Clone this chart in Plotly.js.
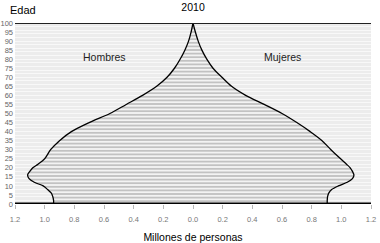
<!DOCTYPE html>
<html>
<head>
<meta charset="utf-8">
<script src="https://cdn.plot.ly/plotly-3.0.1.min.js"></script>
<style>html,body{margin:0;padding:0;background:#fff;}#chart{width:380px;height:243px;}</style>
</head>
<body>
<div id="chart"></div>
<script>
// Age (years)
var ages = [0,2,4,6,8,10,12,14,16,18,20,22,25,30,35,40,45,50,55,60,65,70,75,80,85,90,95,100];
// Millions of people (men drawn to the left)
var hombres = [0.94,0.94,0.945,0.955,0.98,1.01,1.07,1.105,1.115,1.10,1.08,1.045,1.0,0.96,0.90,0.82,0.70,0.56,0.45,0.34,0.245,0.175,0.125,0.087,0.055,0.03,0.013,0];
var mujeres = [0.905,0.905,0.907,0.915,0.935,0.98,1.04,1.075,1.085,1.075,1.06,1.035,0.995,0.93,0.87,0.79,0.70,0.60,0.48,0.355,0.26,0.195,0.135,0.093,0.06,0.035,0.016,0];
var tickVals = [-1.2,-1.0,-0.8,-0.6,-0.4,-0.2,0,0.2,0.4,0.6,0.8,1.0,1.2];
var tickText = ['1.2','1.0','0.8','0.6','0.4','0.2','0.0','0.2','0.4','0.6','0.8','1.0','1.2'];
var yTicks = [0,5,10,15,20,25,30,35,40,45,50,55,60,65,70,75,80,85,90,95,100];

var font = "'Liberation Sans', Arial, Helvetica, sans-serif";
var pattern = {shape:'-', bgcolor:'#f3f3f3', fgcolor:'#9c9c9c', size:3.6, solidity:0.28};

var traces = [
  {x: hombres.map(function(v){return -v;}), y: ages, type:'scatter', mode:'lines',
   line:{color:'#000', width:1.3, shape:'spline', smoothing:0.9},
   fill:'tozerox', fillcolor:'#f3f3f3', fillpattern: pattern, hoverinfo:'skip'},
  {x: mujeres, y: ages, type:'scatter', mode:'lines',
   line:{color:'#000', width:1.3, shape:'spline', smoothing:0.9},
   fill:'tozerox', fillcolor:'#f3f3f3', fillpattern: pattern, hoverinfo:'skip'}
];

var layout = {
  width:380, height:243,
  margin:{l:15, r:9, t:23, b:39},
  paper_bgcolor:'#ffffff',
  plot_bgcolor:'#ececec',
  showlegend:false,
  font:{family:font, color:'#000'},
  title:{text:'2010', font:{size:10.5, color:'#000', family:font}, x:0.508, xanchor:'center', y:0.985, yanchor:'top'},
  xaxis:{range:[-1.2,1.2], tickvals:tickVals, ticktext:tickText, ticks:'outside', ticklen:4, tickcolor:'#b8b8b8',
         tickfont:{size:7.5, color:'#777'}, ticklabelstandoff:4, showgrid:false, zeroline:false, showline:false,
         title:{text:'Millones de personas', font:{size:10.5, color:'#000'}, standoff:10}},
  yaxis:{range:[0,100], tickvals:yTicks, ticks:'', tickfont:{size:7.5, color:'#666'},
         showgrid:false, zeroline:false, showline:false, ticklabelstandoff:1,
         minor:{dtick:2, showgrid:true, gridcolor:'#f8f8f8', gridwidth:1}},
  shapes:[
    {type:'line', xref:'paper', yref:'y', x0:0, x1:1, y0:100, y1:100, line:{color:'#222', width:1.8}},
    {type:'line', xref:'paper', yref:'y', x0:0, x1:1, y0:0, y1:0, line:{color:'#000', width:3}}
  ],
  annotations:[
    {text:'Edad', xref:'paper', yref:'paper', x:-0.02, y:1.025, xanchor:'left', yanchor:'bottom', showarrow:false, font:{size:11, color:'#000'}},
    {text:'Hombres', xref:'x', yref:'y', x:-0.6, y:81, showarrow:false, font:{size:10.5, color:'#222'}},
    {text:'Mujeres', xref:'x', yref:'y', x:0.6, y:81, showarrow:false, font:{size:10.5, color:'#222'}}
  ]
};

Plotly.newPlot('chart', traces, layout, {staticPlot:true, displayModeBar:false});
</script>
</body>
</html>
